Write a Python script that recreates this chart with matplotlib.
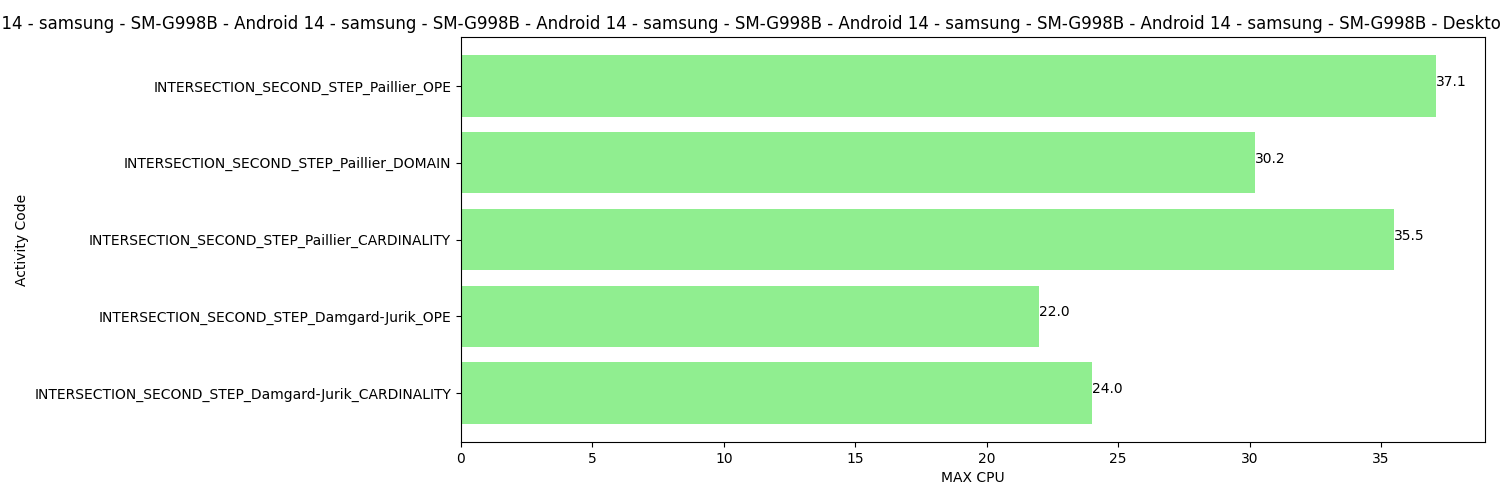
import numpy as np
import matplotlib
matplotlib.use("Agg")
import matplotlib.pyplot as plt

activities = ["INTERSECTION_SECOND_STEP_Damgard-Jurik_CARDINALITY",
              "INTERSECTION_SECOND_STEP_Damgard-Jurik_OPE",
              "INTERSECTION_SECOND_STEP_Paillier_CARDINALITY",
              "INTERSECTION_SECOND_STEP_Paillier_DOMAIN",
              "INTERSECTION_SECOND_STEP_Paillier_OPE"]
max_cpu = [24.0, 22.0, 35.5, 30.2, 37.1]

devices = ["Android 14 - samsung - SM-G998B"] * 5 + ["Desktop - Windows 10 - Chrome", "Desktop - Windows 10 - Chromium"]
title = " - ".join(devices)

fig, ax = plt.subplots(figsize=(15, 5), dpi=100)
ax.barh(activities, max_cpu, color="lightgreen")
for i, v in enumerate(max_cpu):
    ax.text(v, i, f"{v:.1f}")
ax.set_xlabel("MAX CPU")
ax.set_ylabel("Activity Code")
ax.set_title(title)
fig.subplots_adjust(left=0.3073, right=0.99, top=0.926, bottom=0.116)
fig.savefig("out.png")
